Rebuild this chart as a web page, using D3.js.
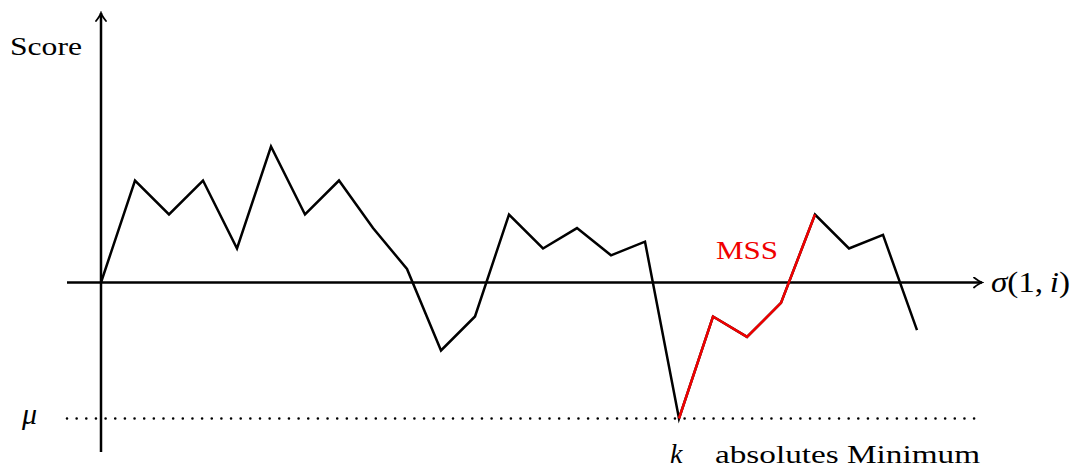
<!DOCTYPE html>
<html>
<head>
<meta charset="utf-8">
<script src="https://cdn.jsdelivr.net/npm/d3@7"></script>
<style>
  html, body { margin: 0; padding: 0; background: #fff; }
  svg { display: block; }
  text { font-family: "Liberation Serif", "DejaVu Serif", serif; fill: #000; }
</style>
</head>
<body>
<svg id="chart" width="1076" height="468"></svg>
<script>
// Cumulative score sigma(1, i) for i = 0 .. 24
const steps = d3.range(25);
const scores = [0, 3, 2, 3, 1, 4, 2, 3, 1.6, 0.4, -2, -1, 2, 1, 1.6, 0.8, 1.2, -4, -1, -1.6, -0.6, 2, 1, 1.4, -1.4];
// Maximal scoring segment: from the absolute minimum k to the following maximum
const mssRange = [17, 21];
const muValue = -4;

const red = "#f00000";
const svg = d3.select("#chart");

const x = d3.scaleLinear().domain([0, 24]).range([101, 917]);
const y = d3.scaleLinear().domain([-4, 4]).range([418.5, 146.5]);

const x0 = x(0), y0 = y(0);

// arrowhead (LaTeX-style curved barbs)
const defs = svg.append("defs");
defs.append("marker")
  .attr("id", "arrow")
  .attr("viewBox", "-10 -6 12 12")
  .attr("refX", 0).attr("refY", 0)
  .attr("markerWidth", 12).attr("markerHeight", 12)
  .attr("markerUnits", "userSpaceOnUse")
  .attr("orient", "auto")
  .append("path")
  .attr("d", "M-8,-5 Q-3,-1 0,0 Q-3,1 -8,5")
  .attr("fill", "none")
  .attr("stroke", "#000")
  .attr("stroke-width", 1.8)
  .attr("stroke-linecap", "round");

// mu level (dotted)
svg.append("line")
  .attr("x1", 67).attr("x2", 978)
  .attr("y1", y(muValue)).attr("y2", y(muValue))
  .attr("stroke", "#000")
  .attr("stroke-width", 2.6)
  .attr("stroke-linecap", "round")
  .attr("stroke-dasharray", "0 9.65");

// axes
svg.append("line")
  .attr("x1", 67).attr("x2", 982)
  .attr("y1", y0).attr("y2", y0)
  .attr("stroke", "#000").attr("stroke-width", 2.5)
  .attr("marker-end", "url(#arrow)");

svg.append("line")
  .attr("x1", x0).attr("x2", x0)
  .attr("y1", 452).attr("y2", 13)
  .attr("stroke", "#000").attr("stroke-width", 2.5)
  .attr("marker-end", "url(#arrow)");

const line = d3.line()
  .x(i => x(i))
  .y(i => y(scores[i]));

// full score path
svg.append("path")
  .attr("d", line(steps))
  .attr("fill", "none")
  .attr("stroke", "#000")
  .attr("stroke-width", 2.5)
  .attr("stroke-linejoin", "miter");

// maximal scoring segment in red
svg.append("path")
  .attr("d", line(steps.filter(i => i >= mssRange[0] && i <= mssRange[1])))
  .attr("fill", "none")
  .attr("stroke", red)
  .attr("stroke-width", 2.5)
  .attr("stroke-linejoin", "miter");

// labels
svg.append("text")
  .attr("x", 10).attr("y", 55)
  .attr("font-size", 26)
  .attr("textLength", 72).attr("lengthAdjust", "spacingAndGlyphs")
  .text("Score");

svg.append("text")
  .attr("x", 716).attr("y", 259)
  .attr("font-size", 26)
  .attr("textLength", 62).attr("lengthAdjust", "spacingAndGlyphs")
  .style("fill", red)
  .text("MSS");

const sig = svg.append("text")
  .attr("x", 991).attr("y", 292)
  .attr("font-size", 29)
  .attr("textLength", 79).attr("lengthAdjust", "spacingAndGlyphs");
sig.append("tspan").attr("font-style", "italic").text("σ");
sig.append("tspan").text("(1,\u2009");
sig.append("tspan").attr("font-style", "italic").text("i");
sig.append("tspan").text(")");

svg.append("text")
  .attr("x", 22).attr("y", y(muValue) + 5)
  .attr("font-size", 30)
  .attr("font-style", "italic")
  .text("μ");

svg.append("text")
  .attr("x", x(mssRange[0]) - 9).attr("y", 463)
  .attr("font-size", 28)
  .attr("font-style", "italic")
  .text("k");

svg.append("text")
  .attr("x", 715).attr("y", 463)
  .attr("font-size", 26)
  .attr("textLength", 265).attr("lengthAdjust", "spacingAndGlyphs")
  .text("absolutes Minimum");
</script>
</body>
</html>
